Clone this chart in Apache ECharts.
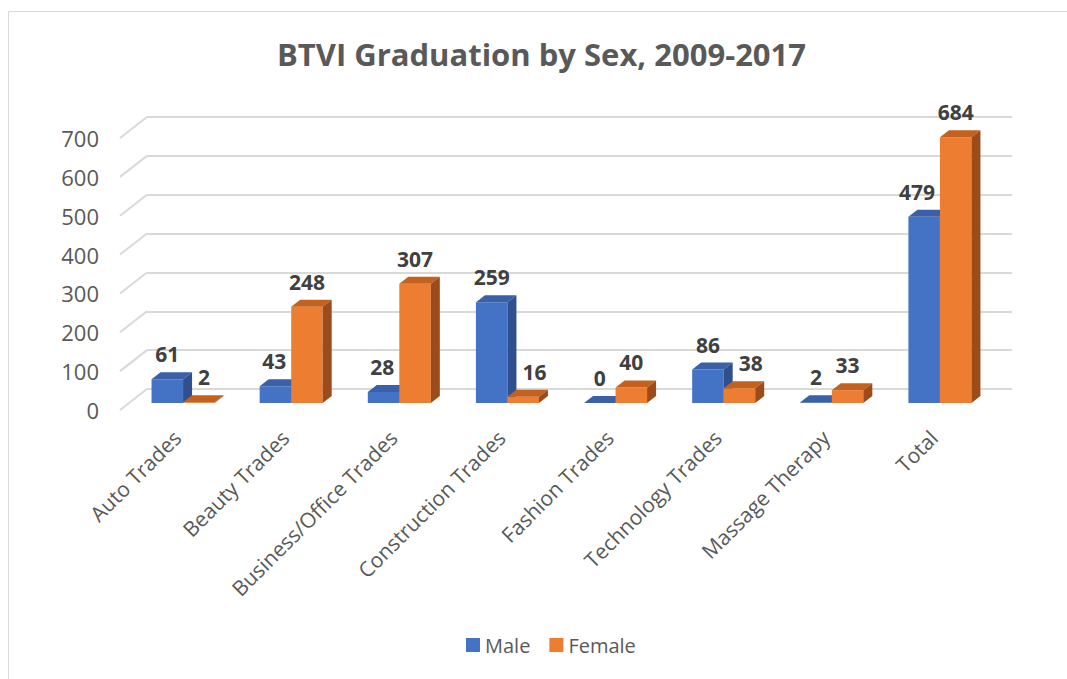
<!DOCTYPE html>
<html>
<head>
<meta charset="utf-8">
<title>BTVI Graduation by Sex</title>
<script src="https://cdn.jsdelivr.net/npm/echarts@6/dist/echarts.min.js"></script>
<style>
  html, body { margin: 0; padding: 0; background: #fff; }
  #chart { width: 1067px; height: 679px; }
</style>
</head>
<body>
<div id="chart"></div>
<script>
// data
const categories = ['Auto Trades', 'Beauty Trades', 'Business/Office Trades', 'Construction Trades',
  'Fashion Trades', 'Technology Trades', 'Massage Therapy', 'Total']
const maleValues = [61, 43, 28, 259, 0, 86, 2, 479]
const femaleValues = [2, 248, 307, 16, 40, 38, 33, 684]
const yTicks = [0, 100, 200, 300, 400, 500, 600, 700]

const FONT = '"Open Sans", "Noto Sans", sans-serif'
const TEXT_GRAY = '#595959'
// depth of one bar and of the whole floor (px)
const BAR_DX = 9
const BAR_DY = -7
const FLOOR_DX = 27
const FLOOR_DY = -21
const DIGIT_W = 12

const faces = {
  Male: { front: '#4472C4', top: '#3A60A8', side: '#2F4F8E' },
  Female: { front: '#ED7D31', top: '#C4611F', side: '#9C4C1B' }
}

function bar3d (name, side, otherValues) {
  return function (params, api) {
    const v = api.value(1)
    const other = otherValues[params.dataIndex]
    const base = api.coord([api.value(0), 0])
    const top = api.coord([api.value(0), v])
    const band = api.size([1, 0])[0]
    const w = band * 0.2915
    const x0 = side === 0 ? base[0] - w : base[0]
    const x1 = x0 + w
    const c = faces[name]
    // keep the value label clear of a taller neighbour bar
    const half = String(v).length * DIGIT_W / 2
    let lx = (x0 + x1) / 2
    if (other > v) {
      if (side === 0) lx = Math.min(lx, x1 - 5 - half)
      else lx = Math.max(lx, x0 + BAR_DX + 6 + half)
    }
    return {
      type: 'group',
      children: [
        {
          type: 'rect',
          shape: { x: x0, y: top[1], width: w, height: base[1] - top[1] },
          style: { fill: c.front }
        },
        {
          type: 'polygon',
          shape: { points: [[x0, top[1]], [x1, top[1]], [x1 + BAR_DX, top[1] + BAR_DY], [x0 + BAR_DX, top[1] + BAR_DY]] },
          style: { fill: c.top }
        },
        {
          type: 'polygon',
          shape: { points: [[x1, top[1]], [x1 + BAR_DX, top[1] + BAR_DY], [x1 + BAR_DX, base[1] + BAR_DY], [x1, base[1]]] },
          style: { fill: c.side }
        },
        {
          type: 'text',
          style: {
            text: String(v),
            x: lx,
            y: top[1] - 25,
            align: 'center',
            verticalAlign: 'middle',
            textAlign: 'center',
            textVerticalAlign: 'middle',
            font: 'bold 21px ' + FONT,
            fill: '#404040'
          }
        }
      ]
    }
  }
}

const chart = echarts.init(document.getElementById('chart'), null, { renderer: 'svg' })

const hiddenCat = { type: 'category', data: categories, show: false }
const valueAxis = { type: 'value', min: 0, max: 700, interval: 100 }

chart.setOption({
  animation: false,
  backgroundColor: '#fff',
  title: {
    text: 'BTVI Graduation by Sex, 2009-2017',
    left: 272,
    top: 33,
    textStyle: { fontFamily: FONT, fontSize: 31, fontWeight: 'bold', color: TEXT_GRAY }
  },
  legend: {
    data: ['Male', 'Female'],
    left: 461,
    top: 630,
    icon: 'rect',
    itemWidth: 14,
    itemHeight: 14,
    itemGap: 19,
    textStyle: { fontFamily: FONT, fontSize: 20, color: TEXT_GRAY }
  },
  graphic: [
    {
      type: 'rect',
      shape: { x: 8.5, y: 11.5, width: 1100, height: 700 },
      style: { fill: 'none', stroke: '#d9d9d9', lineWidth: 1 },
      silent: true
    }
  ],
  grid: [
    // back wall
    { left: 147, top: 117, width: 865, height: 272 },
    // front plane: value labels
    { left: 120, top: 138, width: 865, height: 272 },
    // bar fronts (middle of the depth)
    { left: 129, top: 131, width: 865, height: 272 },
    // category labels
    { left: 123, top: 138, width: 865, height: 272 }
  ],
  xAxis: [
    Object.assign({ gridIndex: 0 }, hiddenCat),
    Object.assign({ gridIndex: 1 }, hiddenCat),
    Object.assign({ gridIndex: 2 }, hiddenCat),
    {
      gridIndex: 3,
      type: 'category',
      data: categories,
      axisLine: { show: false },
      axisTick: { show: false },
      axisLabel: {
        interval: 0,
        rotate: 45,
        margin: 24,
        fontFamily: FONT,
        fontSize: 21,
        color: TEXT_GRAY
      }
    }
  ],
  yAxis: [
    Object.assign({
      gridIndex: 0,
      axisLine: { show: false },
      axisTick: { show: false },
      axisLabel: { show: false },
      splitLine: { lineStyle: { color: '#d9d9d9', width: 2 } }
    }, valueAxis),
    Object.assign({
      gridIndex: 1,
      axisLine: { show: false },
      axisTick: { show: false },
      splitLine: { show: false },
      axisLabel: { margin: 21, fontFamily: FONT, fontSize: 22, color: TEXT_GRAY }
    }, valueAxis),
    Object.assign({ gridIndex: 2, show: false }, valueAxis),
    Object.assign({ gridIndex: 3, show: false }, valueAxis)
  ],
  series: [
    {
      // slanted floor edges of the gridlines
      type: 'custom',
      xAxisIndex: 0,
      yAxisIndex: 0,
      silent: true,
      data: yTicks.map(t => [0, t]),
      renderItem (params, api) {
        const p = api.coord([0, api.value(1)])
        const x = params.coordSys.x
        return {
          type: 'line',
          shape: { x1: x - FLOOR_DX, y1: p[1] - FLOOR_DY, x2: x, y2: p[1] },
          style: { stroke: '#d9d9d9', lineWidth: 2 }
        }
      }
    },
    {
      name: 'Male',
      type: 'custom',
      xAxisIndex: 2,
      yAxisIndex: 2,
      itemStyle: { color: faces.Male.front },
      data: maleValues.map((v, i) => [i, v]),
      renderItem: bar3d('Male', 0, femaleValues)
    },
    {
      name: 'Female',
      type: 'custom',
      xAxisIndex: 2,
      yAxisIndex: 2,
      itemStyle: { color: faces.Female.front },
      data: femaleValues.map((v, i) => [i, v]),
      renderItem: bar3d('Female', 1, maleValues)
    }
  ]
})
</script>
</body>
</html>
